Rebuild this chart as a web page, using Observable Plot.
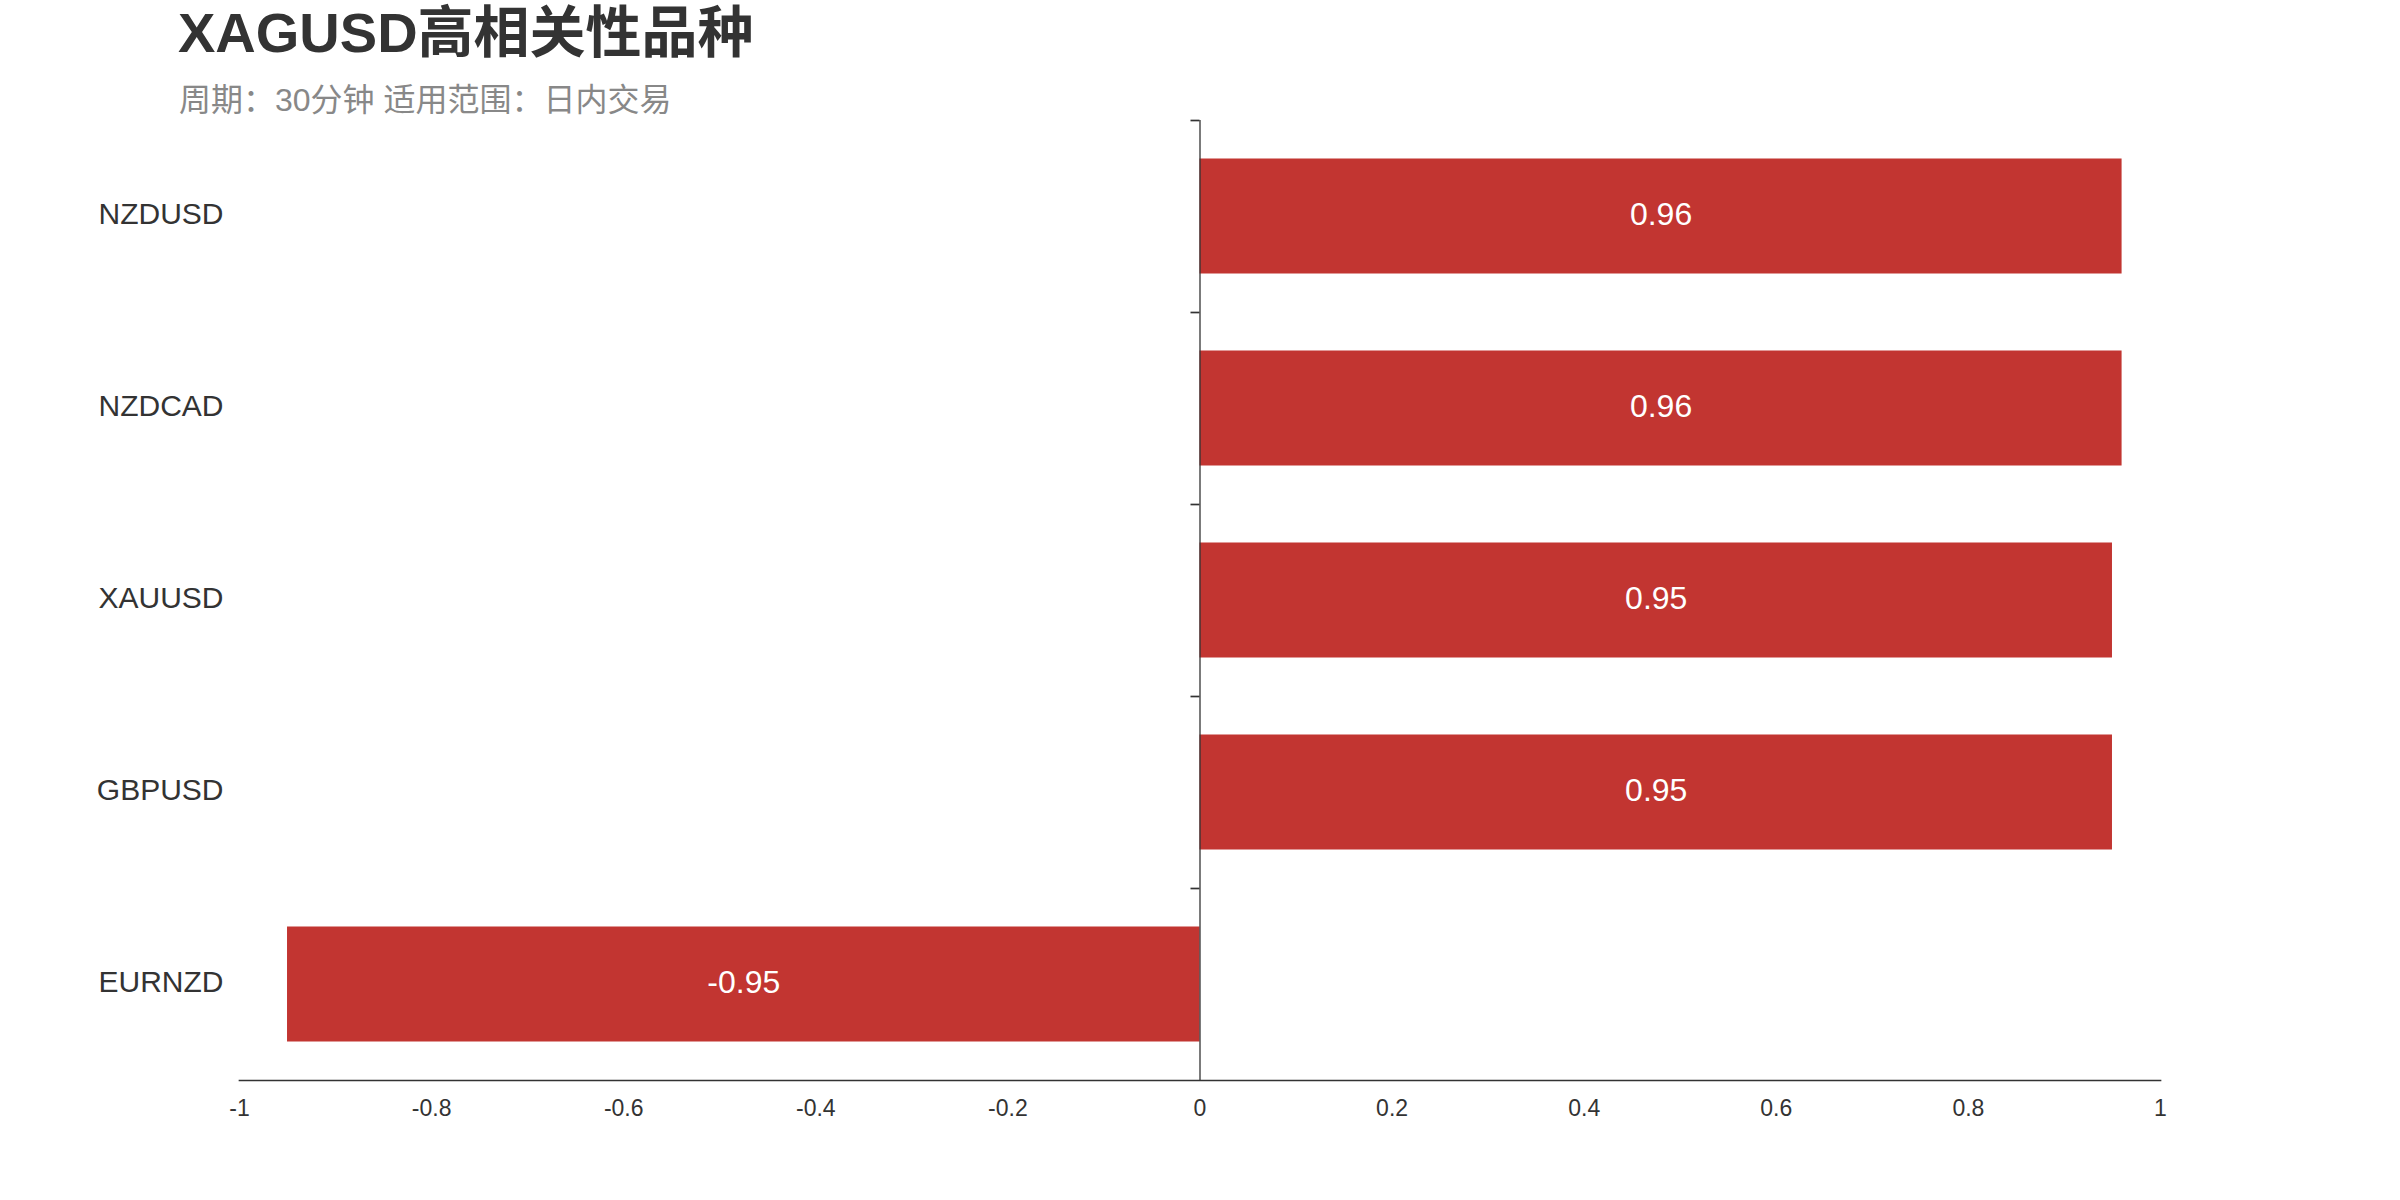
<!DOCTYPE html>
<html>
<head>
<meta charset="utf-8">
<script src="https://cdn.jsdelivr.net/npm/d3@7"></script>
<script src="https://cdn.jsdelivr.net/npm/@observablehq/plot@0.6"></script>
<style>
  html, body { margin: 0; padding: 0; background: #fff; }
  body { width: 2400px; height: 1200px; overflow: hidden; font-family: "Liberation Sans", Arial, "Noto Sans CJK SC", sans-serif; }
  #header { position: relative; height: 110px; }
  #title { position: absolute; left: 178px; top: 0; font-size: 56px; line-height: 66px; font-weight: bold; color: #333; white-space: nowrap; }
  #subtitle { position: absolute; left: 179px; top: 80px; font-size: 32px; line-height: 40px; color: #888; white-space: nowrap; }
</style>
</head>
<body>
<div id="header">
  <div id="title">XAGUSD高相关性品种</div>
  <div id="subtitle">周期：30分钟 适用范围：日内交易</div>
</div>
<div id="chart"></div>
<script>
const names = ["NZDUSD", "NZDCAD", "XAUUSD", "GBPUSD", "EURNZD"];
const values = [0.96, 0.96, 0.95, 0.95, -0.95];
const xTicks = [-1, -0.8, -0.6, -0.4, -0.2, 0, 0.2, 0.4, 0.6, 0.8, 1];

const rows = names.map((name, i) => ({name, value: values[i]}));

const chart = Plot.plot({
  width: 2400,
  height: 1090,
  marginTop: 10,
  marginBottom: 120,
  marginLeft: 239,
  marginRight: 240,
  style: {fontFamily: '"Liberation Sans", Arial, sans-serif', background: "#fff", color: "#333"},
  x: {domain: [-1, 1]},
  y: {domain: names, padding: 0},
  marks: [
    Plot.barX(rows, {x: "value", y: "name", fill: "#c23531", insetTop: 38.5, insetBottom: 38.5}),
    Plot.text(rows, {x: d => d.value / 2, y: "name", text: d => String(d.value), fill: "#fff", fontSize: 32, dy: -2}),
    Plot.ruleX([0], {stroke: "#333", strokeWidth: 1.3}),
    Plot.ruleY(names, {y: d => d, x1: 0, x2: 0, insetLeft: -9, dy: -96, stroke: "#333", strokeWidth: 1.7}),
    Plot.frame({anchor: "bottom", stroke: "#333", strokeWidth: 1.7}),
    Plot.axisX({ticks: xTicks, tickFormat: d => String(d), tickSize: 0, tickPadding: 19, fontSize: 23, color: "#333", label: null}),
    Plot.axisY({tickSize: 0, tickPadding: 16, fontSize: 30, dy: -2, color: "#333", label: null})
  ]
});
document.getElementById("chart").appendChild(chart);
</script>
</body>
</html>
